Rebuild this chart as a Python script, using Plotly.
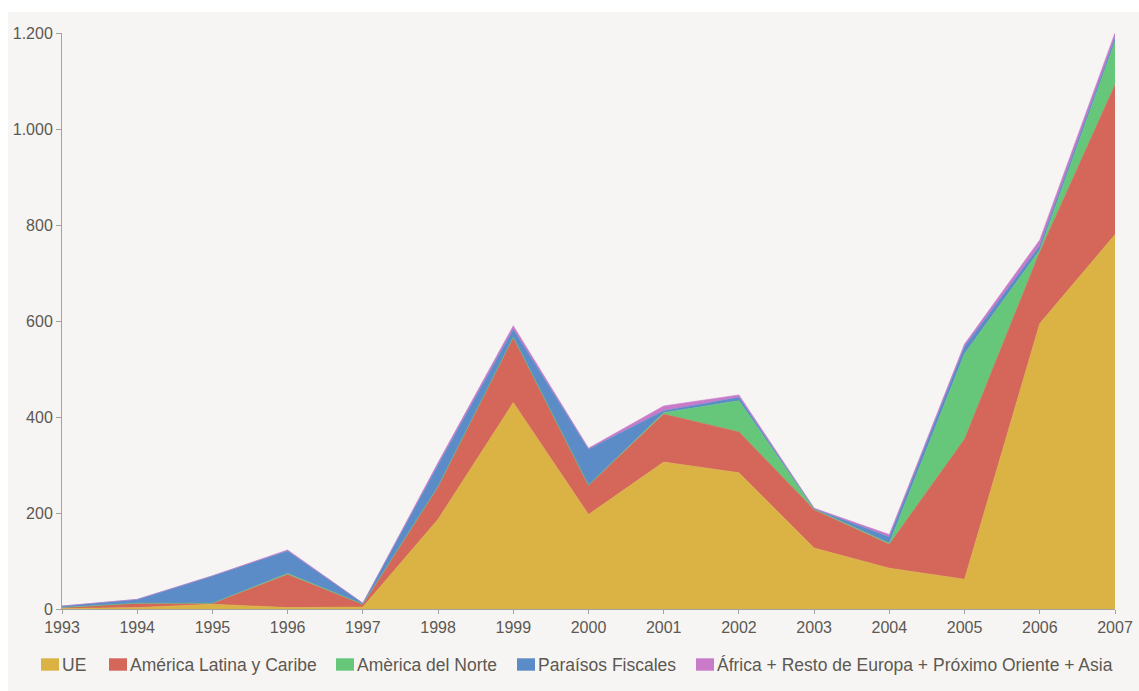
import plotly.graph_objects as go

# Investment by destination region, 1993-2007 (stacked)
years = [1993, 1994, 1995, 1996, 1997, 1998, 1999, 2000, 2001, 2002, 2003, 2004, 2005, 2006, 2007]
ue = [1, 3, 10, 3, 4, 187, 430, 197, 306, 284, 127, 85, 62, 595, 780]
america_latina = [2, 9, 2, 69, 6, 68, 136, 61, 100, 85, 80, 50, 292, 149, 312]
america_norte = [0, 0, 0, 2, 0, 0, 0, 0, 3, 65, 1, 2, 178, 4, 90]
paraisos = [3, 8, 57, 47, 2, 45, 17, 75, 4, 7, 1, 13, 15, 9, 8]
resto = [0, 0, 0, 2, 0, 5, 7, 2, 10, 5, 1, 5, 5, 12, 10]

series_names = [
    "UE",
    "América Latina y Caribe",
    "Amèrica del Norte",
    "Paraísos Fiscales",
    "África + Resto de Europa + Próximo Oriente + Asia",
]
series_values = [ue, america_latina, america_norte, paraisos, resto]
series_colors = ["#dbb345", "#d4665a", "#66c77a", "#5b8cc7", "#c97bca"]

y_ticks = [0, 200, 400, 600, 800, 1000, 1200]

W, H = 1139, 691
L, R, T, B = 62, 24, 33, 82
PW, PH = W - L - R, H - T - B

TEXT = "#5d5852"
AXIS = "#a3a3a3"
PANEL = "#f6f5f3"
FONT = "Liberation Sans, Arial, sans-serif"


def px_x(px):
    return (px - L) / PW


def px_y(py):
    return (H - B - py) / PH


fig = go.Figure()
for name, vals, col in zip(series_names, series_values, series_colors):
    fig.add_trace(go.Scatter(
        x=years, y=vals, name=name, mode="lines",
        stackgroup="one", line=dict(color=col, width=0.6),
        fillcolor=col, showlegend=False,
    ))

shapes = [
    dict(type="rect", xref="paper", yref="paper", layer="below",
         x0=px_x(8), x1=px_x(W + 5), y0=px_y(H + 5), y1=px_y(12),
         fillcolor=PANEL, line=dict(width=0)),
]
annotations = []

# Legend row: colour swatch followed by label
legend_x = [41, 109, 336, 517, 696]
for lx, name, col in zip(legend_x, series_names, series_colors):
    shapes.append(dict(type="rect", xref="paper", yref="paper",
                       x0=px_x(lx), x1=px_x(lx + 18),
                       y0=px_y(670.7), y1=px_y(658.3),
                       fillcolor=col, line=dict(width=0)))
    annotations.append(dict(xref="paper", yref="paper",
                            x=px_x(lx + 19), y=px_y(665),
                            xanchor="left", yanchor="middle",
                            text=name, showarrow=False,
                            font=dict(family=FONT, size=17.5, color=TEXT)))

fig.update_layout(
    width=W, height=H,
    margin=dict(l=L, r=R, t=T, b=B, pad=0, autoexpand=False),
    paper_bgcolor="white",
    plot_bgcolor=PANEL,
    separators=",.",
    font=dict(family=FONT, size=16, color=TEXT),
    shapes=shapes,
    annotations=annotations,
    showlegend=False,
    xaxis=dict(
        range=[1993, 2007], tickmode="array", tickvals=years,
        ticktext=[str(y) for y in years], automargin=False,
        showgrid=False, zeroline=False,
        showline=True, linecolor=AXIS, linewidth=1,
        ticks="outside", ticklen=4, tickcolor=AXIS, tickwidth=1,
        tickfont=dict(size=16, color=TEXT),
    ),
    yaxis=dict(
        range=[0, 1200], tickmode="array", tickvals=y_ticks,
        tickformat=",d", automargin=False,
        showgrid=False, zeroline=False,
        showline=True, linecolor=AXIS, linewidth=1,
        ticks="outside", ticklen=5, tickcolor=AXIS, tickwidth=1,
        tickfont=dict(size=16, color=TEXT),
    ),
)

fig.write_html("out.html")
